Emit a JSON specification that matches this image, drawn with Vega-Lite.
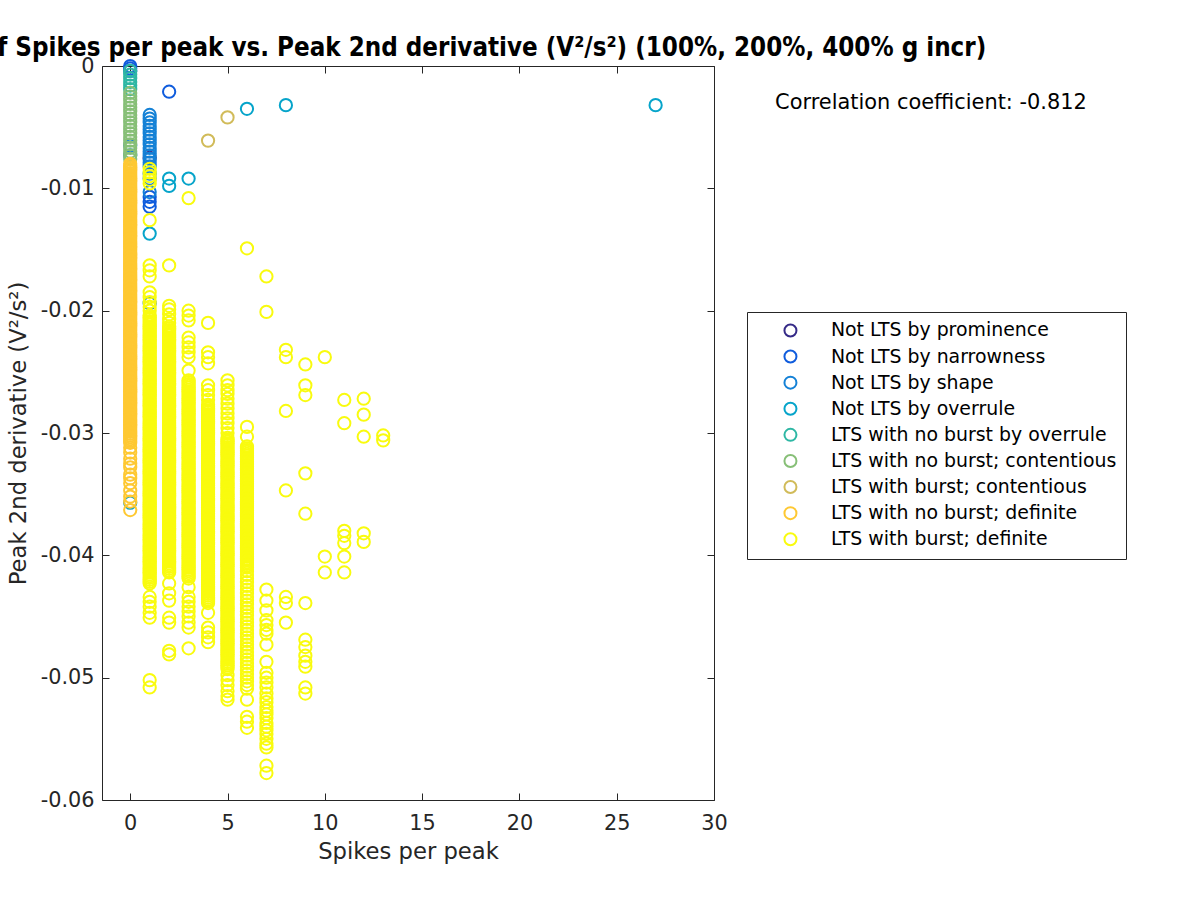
{
"$schema": "https://vega.github.io/schema/vega-lite/v6.json",
"width": 612, "height": 734,
"autosize": {"type": "none"},
"padding": {"left": 102, "top": 66, "right": 486, "bottom": 100},
"background": "white",
"title": {"text": "Number of Spikes per peak vs. Peak 2nd derivative (V²/s²) (100%, 200%, 400% g incr)", "fontSize": 25.7, "font": "DejaVu Sans Condensed, DejaVu Sans", "fontWeight": "bold", "color": "#000000", "anchor": "middle", "frame": "group", "baseline": "alphabetic", "offset": -27, "dx": 20},
"config": {"view": {"stroke": null}},
"resolve": {"axis": {"x": "independent", "y": "independent"}},
"layer": [
{
"data": {"values": [
{"x":1,"y":-0.0075,"c":"a"},
{"x":0,"y":0,"c":"b"},{"x":0,"y":-0.0002,"c":"b"},{"x":0,"y":-0.0004,"c":"b"},{"x":2,"y":-0.0021,"c":"b"},{"x":1,"y":-0.0107,"c":"b"},{"x":1,"y":-0.0111,"c":"b"},{"x":1,"y":-0.0115,"c":"b"},
{"x":0,"y":-0.0065,"c":"c"},{"x":0,"y":-0.0073,"c":"c"},
{"x":1,"y":-0.004,"c":"c"},{"x":1,"y":-0.0043,"c":"c"},{"x":1,"y":-0.0046,"c":"c"},{"x":1,"y":-0.0049,"c":"c"},{"x":1,"y":-0.0052,"c":"c"},{"x":1,"y":-0.0055,"c":"c"},{"x":1,"y":-0.0058,"c":"c"},{"x":1,"y":-0.0061,"c":"c"},{"x":1,"y":-0.0064,"c":"c"},{"x":1,"y":-0.0067,"c":"c"},{"x":1,"y":-0.007,"c":"c"},{"x":1,"y":-0.0073,"c":"c"},{"x":1,"y":-0.0076,"c":"c"},{"x":1,"y":-0.0079,"c":"c"},{"x":1,"y":-0.0082,"c":"c"},{"x":1,"y":-0.0088,"c":"c"},{"x":1,"y":-0.0092,"c":"c"},{"x":1,"y":-0.0103,"c":"c"},{"x":1,"y":-0.0194,"c":"c"},
{"x":0,"y":-0.0357,"c":"d"},{"x":1,"y":-0.0137,"c":"d"},{"x":2,"y":-0.0092,"c":"d"},{"x":2,"y":-0.0098,"c":"d"},{"x":3,"y":-0.0092,"c":"d"},{"x":6,"y":-0.0035,"c":"d"},{"x":8,"y":-0.0032,"c":"d"},{"x":27,"y":-0.0032,"c":"d"},
{"x":0,"y":-0.0004,"c":"e"},{"x":0,"y":-0.0007,"c":"e"},{"x":0,"y":-0.001,"c":"e"},{"x":0,"y":-0.0013,"c":"e"},{"x":0,"y":-0.0016,"c":"e"},{"x":0,"y":-0.0019,"c":"e"},
{"x":0,"y":-0.0022,"c":"f"},{"x":0,"y":-0.0025,"c":"f"},{"x":0,"y":-0.0028,"c":"f"},{"x":0,"y":-0.0031,"c":"f"},{"x":0,"y":-0.0034,"c":"f"},{"x":0,"y":-0.0037,"c":"f"},{"x":0,"y":-0.004,"c":"f"},{"x":0,"y":-0.0043,"c":"f"},{"x":0,"y":-0.0046,"c":"f"},{"x":0,"y":-0.0049,"c":"f"},{"x":0,"y":-0.0052,"c":"f"},{"x":0,"y":-0.0055,"c":"f"},{"x":0,"y":-0.0058,"c":"f"},{"x":0,"y":-0.0061,"c":"f"},{"x":0,"y":-0.0064,"c":"f"},{"x":0,"y":-0.0067,"c":"f"},{"x":0,"y":-0.007,"c":"f"},{"x":0,"y":-0.0073,"c":"f"},{"x":0,"y":-0.0076,"c":"f"},
{"x":4,"y":-0.0061,"c":"g"},{"x":5,"y":-0.0042,"c":"g"},
{"x":0,"y":-0.008,"c":"h"},{"x":0,"y":-0.0083,"c":"h"},{"x":0,"y":-0.0086,"c":"h"},{"x":0,"y":-0.0089,"c":"h"},{"x":0,"y":-0.0092,"c":"h"},{"x":0,"y":-0.0095,"c":"h"},{"x":0,"y":-0.0098,"c":"h"},{"x":0,"y":-0.0101,"c":"h"},{"x":0,"y":-0.0104,"c":"h"},{"x":0,"y":-0.0107,"c":"h"},{"x":0,"y":-0.011,"c":"h"},{"x":0,"y":-0.0113,"c":"h"},{"x":0,"y":-0.0116,"c":"h"},{"x":0,"y":-0.0119,"c":"h"},{"x":0,"y":-0.0122,"c":"h"},{"x":0,"y":-0.0125,"c":"h"},{"x":0,"y":-0.0128,"c":"h"},{"x":0,"y":-0.0131,"c":"h"},{"x":0,"y":-0.0134,"c":"h"},{"x":0,"y":-0.0137,"c":"h"},{"x":0,"y":-0.014,"c":"h"},{"x":0,"y":-0.0143,"c":"h"},{"x":0,"y":-0.0146,"c":"h"},{"x":0,"y":-0.0149,"c":"h"},{"x":0,"y":-0.0152,"c":"h"},{"x":0,"y":-0.0155,"c":"h"},{"x":0,"y":-0.0158,"c":"h"},{"x":0,"y":-0.0161,"c":"h"},{"x":0,"y":-0.0164,"c":"h"},{"x":0,"y":-0.0167,"c":"h"},{"x":0,"y":-0.017,"c":"h"},{"x":0,"y":-0.0173,"c":"h"},{"x":0,"y":-0.0176,"c":"h"},{"x":0,"y":-0.0179,"c":"h"},{"x":0,"y":-0.0182,"c":"h"},{"x":0,"y":-0.0185,"c":"h"},{"x":0,"y":-0.0188,"c":"h"},{"x":0,"y":-0.0191,"c":"h"},{"x":0,"y":-0.0194,"c":"h"},{"x":0,"y":-0.0197,"c":"h"},{"x":0,"y":-0.02,"c":"h"},{"x":0,"y":-0.0203,"c":"h"},{"x":0,"y":-0.0206,"c":"h"},{"x":0,"y":-0.0209,"c":"h"},{"x":0,"y":-0.0212,"c":"h"},{"x":0,"y":-0.0215,"c":"h"},{"x":0,"y":-0.0218,"c":"h"},{"x":0,"y":-0.0221,"c":"h"},{"x":0,"y":-0.0224,"c":"h"},{"x":0,"y":-0.0227,"c":"h"},{"x":0,"y":-0.023,"c":"h"},{"x":0,"y":-0.0233,"c":"h"},{"x":0,"y":-0.0236,"c":"h"},{"x":0,"y":-0.0239,"c":"h"},{"x":0,"y":-0.0242,"c":"h"},{"x":0,"y":-0.0245,"c":"h"},{"x":0,"y":-0.0248,"c":"h"},{"x":0,"y":-0.0251,"c":"h"},{"x":0,"y":-0.0254,"c":"h"},{"x":0,"y":-0.0257,"c":"h"},{"x":0,"y":-0.026,"c":"h"},{"x":0,"y":-0.0263,"c":"h"},{"x":0,"y":-0.0266,"c":"h"},{"x":0,"y":-0.0269,"c":"h"},{"x":0,"y":-0.0272,"c":"h"},{"x":0,"y":-0.0275,"c":"h"},{"x":0,"y":-0.0278,"c":"h"},{"x":0,"y":-0.0281,"c":"h"},{"x":0,"y":-0.0284,"c":"h"},{"x":0,"y":-0.0287,"c":"h"},{"x":0,"y":-0.029,"c":"h"},{"x":0,"y":-0.0293,"c":"h"},{"x":0,"y":-0.0296,"c":"h"},{"x":0,"y":-0.0299,"c":"h"},{"x":0,"y":-0.0302,"c":"h"},{"x":0,"y":-0.0305,"c":"h"},{"x":0,"y":-0.0308,"c":"h"},
{"x":0,"y":-0.00815,"c":"h"},{"x":0,"y":-0.00845,"c":"h"},{"x":0,"y":-0.00875,"c":"h"},{"x":0,"y":-0.00905,"c":"h"},{"x":0,"y":-0.00935,"c":"h"},{"x":0,"y":-0.00965,"c":"h"},{"x":0,"y":-0.00995,"c":"h"},{"x":0,"y":-0.01025,"c":"h"},{"x":0,"y":-0.01055,"c":"h"},{"x":0,"y":-0.01085,"c":"h"},{"x":0,"y":-0.01115,"c":"h"},{"x":0,"y":-0.01145,"c":"h"},{"x":0,"y":-0.01175,"c":"h"},{"x":0,"y":-0.01205,"c":"h"},{"x":0,"y":-0.01235,"c":"h"},{"x":0,"y":-0.01265,"c":"h"},{"x":0,"y":-0.01295,"c":"h"},{"x":0,"y":-0.01325,"c":"h"},{"x":0,"y":-0.01355,"c":"h"},{"x":0,"y":-0.01385,"c":"h"},{"x":0,"y":-0.01415,"c":"h"},{"x":0,"y":-0.01445,"c":"h"},{"x":0,"y":-0.01475,"c":"h"},{"x":0,"y":-0.01505,"c":"h"},{"x":0,"y":-0.01535,"c":"h"},{"x":0,"y":-0.01565,"c":"h"},{"x":0,"y":-0.01595,"c":"h"},{"x":0,"y":-0.01625,"c":"h"},{"x":0,"y":-0.01655,"c":"h"},{"x":0,"y":-0.01685,"c":"h"},{"x":0,"y":-0.01715,"c":"h"},{"x":0,"y":-0.01745,"c":"h"},{"x":0,"y":-0.01775,"c":"h"},{"x":0,"y":-0.01805,"c":"h"},{"x":0,"y":-0.01835,"c":"h"},{"x":0,"y":-0.01865,"c":"h"},{"x":0,"y":-0.01895,"c":"h"},{"x":0,"y":-0.01925,"c":"h"},{"x":0,"y":-0.01955,"c":"h"},{"x":0,"y":-0.01985,"c":"h"},{"x":0,"y":-0.02015,"c":"h"},{"x":0,"y":-0.02045,"c":"h"},{"x":0,"y":-0.02075,"c":"h"},{"x":0,"y":-0.02105,"c":"h"},{"x":0,"y":-0.02135,"c":"h"},{"x":0,"y":-0.02165,"c":"h"},{"x":0,"y":-0.02195,"c":"h"},{"x":0,"y":-0.02225,"c":"h"},{"x":0,"y":-0.02255,"c":"h"},{"x":0,"y":-0.02285,"c":"h"},{"x":0,"y":-0.02315,"c":"h"},{"x":0,"y":-0.02345,"c":"h"},{"x":0,"y":-0.02375,"c":"h"},{"x":0,"y":-0.02405,"c":"h"},{"x":0,"y":-0.02435,"c":"h"},{"x":0,"y":-0.02465,"c":"h"},{"x":0,"y":-0.02495,"c":"h"},{"x":0,"y":-0.02525,"c":"h"},{"x":0,"y":-0.02555,"c":"h"},{"x":0,"y":-0.02585,"c":"h"},{"x":0,"y":-0.02615,"c":"h"},{"x":0,"y":-0.02645,"c":"h"},{"x":0,"y":-0.02675,"c":"h"},{"x":0,"y":-0.02705,"c":"h"},{"x":0,"y":-0.02735,"c":"h"},{"x":0,"y":-0.02765,"c":"h"},{"x":0,"y":-0.02795,"c":"h"},{"x":0,"y":-0.02825,"c":"h"},{"x":0,"y":-0.02855,"c":"h"},{"x":0,"y":-0.02885,"c":"h"},{"x":0,"y":-0.02915,"c":"h"},{"x":0,"y":-0.02945,"c":"h"},{"x":0,"y":-0.02975,"c":"h"},{"x":0,"y":-0.03005,"c":"h"},{"x":0,"y":-0.03035,"c":"h"},{"x":0,"y":-0.03065,"c":"h"},
{"x":0,"y":-0.0312,"c":"h"},{"x":0,"y":-0.0316,"c":"h"},{"x":0,"y":-0.0321,"c":"h"},{"x":0,"y":-0.0325,"c":"h"},{"x":0,"y":-0.0328,"c":"h"},{"x":0,"y":-0.0334,"c":"h"},{"x":0,"y":-0.0337,"c":"h"},{"x":0,"y":-0.0341,"c":"h"},{"x":0,"y":-0.0347,"c":"h"},{"x":0,"y":-0.0352,"c":"h"},{"x":0,"y":-0.0356,"c":"h"},{"x":0,"y":-0.0363,"c":"h"},
{"x":1,"y":-0.0084,"c":"i"},{"x":1,"y":-0.0087,"c":"i"},{"x":1,"y":-0.009,"c":"i"},{"x":1,"y":-0.0093,"c":"i"},{"x":1,"y":-0.0096,"c":"i"},{"x":1,"y":-0.0126,"c":"i"},{"x":1,"y":-0.0163,"c":"i"},{"x":1,"y":-0.0167,"c":"i"},{"x":1,"y":-0.0172,"c":"i"},{"x":1,"y":-0.0185,"c":"i"},{"x":1,"y":-0.0189,"c":"i"},{"x":1,"y":-0.0193,"c":"i"},{"x":1,"y":-0.0197,"c":"i"},{"x":1,"y":-0.02,"c":"i"},
{"x":1,"y":-0.0204,"c":"i"},{"x":1,"y":-0.0207,"c":"i"},{"x":1,"y":-0.021,"c":"i"},{"x":1,"y":-0.0213,"c":"i"},{"x":1,"y":-0.0216,"c":"i"},{"x":1,"y":-0.0219,"c":"i"},{"x":1,"y":-0.0222,"c":"i"},{"x":1,"y":-0.0225,"c":"i"},{"x":1,"y":-0.0228,"c":"i"},{"x":1,"y":-0.0231,"c":"i"},{"x":1,"y":-0.0234,"c":"i"},{"x":1,"y":-0.0237,"c":"i"},{"x":1,"y":-0.024,"c":"i"},{"x":1,"y":-0.0243,"c":"i"},{"x":1,"y":-0.0246,"c":"i"},{"x":1,"y":-0.0249,"c":"i"},{"x":1,"y":-0.0252,"c":"i"},{"x":1,"y":-0.0255,"c":"i"},{"x":1,"y":-0.0258,"c":"i"},{"x":1,"y":-0.0261,"c":"i"},{"x":1,"y":-0.0264,"c":"i"},{"x":1,"y":-0.0267,"c":"i"},{"x":1,"y":-0.027,"c":"i"},{"x":1,"y":-0.0273,"c":"i"},{"x":1,"y":-0.0276,"c":"i"},{"x":1,"y":-0.0279,"c":"i"},{"x":1,"y":-0.0282,"c":"i"},{"x":1,"y":-0.0285,"c":"i"},{"x":1,"y":-0.0288,"c":"i"},{"x":1,"y":-0.0291,"c":"i"},{"x":1,"y":-0.0294,"c":"i"},{"x":1,"y":-0.0297,"c":"i"},{"x":1,"y":-0.03,"c":"i"},{"x":1,"y":-0.0303,"c":"i"},{"x":1,"y":-0.0306,"c":"i"},{"x":1,"y":-0.0309,"c":"i"},{"x":1,"y":-0.0312,"c":"i"},{"x":1,"y":-0.0315,"c":"i"},{"x":1,"y":-0.0318,"c":"i"},{"x":1,"y":-0.0321,"c":"i"},{"x":1,"y":-0.0324,"c":"i"},{"x":1,"y":-0.0327,"c":"i"},{"x":1,"y":-0.033,"c":"i"},{"x":1,"y":-0.0333,"c":"i"},{"x":1,"y":-0.0336,"c":"i"},{"x":1,"y":-0.0339,"c":"i"},{"x":1,"y":-0.0342,"c":"i"},{"x":1,"y":-0.0345,"c":"i"},{"x":1,"y":-0.0348,"c":"i"},{"x":1,"y":-0.0351,"c":"i"},{"x":1,"y":-0.0354,"c":"i"},{"x":1,"y":-0.0357,"c":"i"},{"x":1,"y":-0.036,"c":"i"},{"x":1,"y":-0.0363,"c":"i"},{"x":1,"y":-0.0366,"c":"i"},{"x":1,"y":-0.0369,"c":"i"},{"x":1,"y":-0.0372,"c":"i"},{"x":1,"y":-0.0375,"c":"i"},{"x":1,"y":-0.0378,"c":"i"},{"x":1,"y":-0.0381,"c":"i"},{"x":1,"y":-0.0384,"c":"i"},{"x":1,"y":-0.0387,"c":"i"},{"x":1,"y":-0.039,"c":"i"},{"x":1,"y":-0.0393,"c":"i"},{"x":1,"y":-0.0396,"c":"i"},{"x":1,"y":-0.0399,"c":"i"},{"x":1,"y":-0.0402,"c":"i"},{"x":1,"y":-0.0405,"c":"i"},{"x":1,"y":-0.0408,"c":"i"},{"x":1,"y":-0.0411,"c":"i"},{"x":1,"y":-0.0414,"c":"i"},{"x":1,"y":-0.0417,"c":"i"},{"x":1,"y":-0.042,"c":"i"},{"x":1,"y":-0.0423,"c":"i"},
{"x":1,"y":-0.0434,"c":"i"},{"x":1,"y":-0.0438,"c":"i"},{"x":1,"y":-0.0442,"c":"i"},{"x":1,"y":-0.0447,"c":"i"},{"x":1,"y":-0.0451,"c":"i"},{"x":1,"y":-0.0502,"c":"i"},{"x":1,"y":-0.0508,"c":"i"},
{"x":2,"y":-0.0163,"c":"i"},{"x":2,"y":-0.0196,"c":"i"},{"x":2,"y":-0.0199,"c":"i"},{"x":2,"y":-0.0203,"c":"i"},{"x":2,"y":-0.0207,"c":"i"},{"x":2,"y":-0.021,"c":"i"},
{"x":2,"y":-0.0213,"c":"i"},{"x":2,"y":-0.0216,"c":"i"},{"x":2,"y":-0.0219,"c":"i"},{"x":2,"y":-0.0222,"c":"i"},{"x":2,"y":-0.0225,"c":"i"},{"x":2,"y":-0.0228,"c":"i"},{"x":2,"y":-0.0231,"c":"i"},{"x":2,"y":-0.0234,"c":"i"},{"x":2,"y":-0.0237,"c":"i"},{"x":2,"y":-0.024,"c":"i"},{"x":2,"y":-0.0243,"c":"i"},{"x":2,"y":-0.0246,"c":"i"},{"x":2,"y":-0.0249,"c":"i"},{"x":2,"y":-0.0252,"c":"i"},{"x":2,"y":-0.0255,"c":"i"},{"x":2,"y":-0.0258,"c":"i"},{"x":2,"y":-0.0261,"c":"i"},{"x":2,"y":-0.0264,"c":"i"},{"x":2,"y":-0.0267,"c":"i"},{"x":2,"y":-0.027,"c":"i"},{"x":2,"y":-0.0273,"c":"i"},{"x":2,"y":-0.0276,"c":"i"},{"x":2,"y":-0.0279,"c":"i"},{"x":2,"y":-0.0282,"c":"i"},{"x":2,"y":-0.0285,"c":"i"},{"x":2,"y":-0.0288,"c":"i"},{"x":2,"y":-0.0291,"c":"i"},{"x":2,"y":-0.0294,"c":"i"},{"x":2,"y":-0.0297,"c":"i"},{"x":2,"y":-0.03,"c":"i"},{"x":2,"y":-0.0303,"c":"i"},{"x":2,"y":-0.0306,"c":"i"},{"x":2,"y":-0.0309,"c":"i"},{"x":2,"y":-0.0312,"c":"i"},{"x":2,"y":-0.0315,"c":"i"},{"x":2,"y":-0.0318,"c":"i"},{"x":2,"y":-0.0321,"c":"i"},{"x":2,"y":-0.0324,"c":"i"},{"x":2,"y":-0.0327,"c":"i"},{"x":2,"y":-0.033,"c":"i"},{"x":2,"y":-0.0333,"c":"i"},{"x":2,"y":-0.0336,"c":"i"},{"x":2,"y":-0.0339,"c":"i"},{"x":2,"y":-0.0342,"c":"i"},{"x":2,"y":-0.0345,"c":"i"},{"x":2,"y":-0.0348,"c":"i"},{"x":2,"y":-0.0351,"c":"i"},{"x":2,"y":-0.0354,"c":"i"},{"x":2,"y":-0.0357,"c":"i"},{"x":2,"y":-0.036,"c":"i"},{"x":2,"y":-0.0363,"c":"i"},{"x":2,"y":-0.0366,"c":"i"},{"x":2,"y":-0.0369,"c":"i"},{"x":2,"y":-0.0372,"c":"i"},{"x":2,"y":-0.0375,"c":"i"},{"x":2,"y":-0.0378,"c":"i"},{"x":2,"y":-0.0381,"c":"i"},{"x":2,"y":-0.0384,"c":"i"},{"x":2,"y":-0.0387,"c":"i"},{"x":2,"y":-0.039,"c":"i"},{"x":2,"y":-0.0393,"c":"i"},{"x":2,"y":-0.0396,"c":"i"},{"x":2,"y":-0.0399,"c":"i"},{"x":2,"y":-0.0402,"c":"i"},{"x":2,"y":-0.0405,"c":"i"},{"x":2,"y":-0.0408,"c":"i"},{"x":2,"y":-0.0411,"c":"i"},{"x":2,"y":-0.0414,"c":"i"},
{"x":2,"y":-0.0423,"c":"i"},{"x":2,"y":-0.0431,"c":"i"},{"x":2,"y":-0.0437,"c":"i"},{"x":2,"y":-0.0451,"c":"i"},{"x":2,"y":-0.0455,"c":"i"},{"x":2,"y":-0.0478,"c":"i"},{"x":2,"y":-0.0481,"c":"i"},
{"x":3,"y":-0.0108,"c":"i"},{"x":3,"y":-0.02,"c":"i"},{"x":3,"y":-0.0204,"c":"i"},{"x":3,"y":-0.0208,"c":"i"},{"x":3,"y":-0.0222,"c":"i"},{"x":3,"y":-0.0226,"c":"i"},{"x":3,"y":-0.023,"c":"i"},{"x":3,"y":-0.0234,"c":"i"},{"x":3,"y":-0.0238,"c":"i"},{"x":3,"y":-0.0249,"c":"i"},
{"x":3,"y":-0.0257,"c":"i"},{"x":3,"y":-0.026,"c":"i"},{"x":3,"y":-0.0263,"c":"i"},{"x":3,"y":-0.0266,"c":"i"},{"x":3,"y":-0.0269,"c":"i"},{"x":3,"y":-0.0272,"c":"i"},{"x":3,"y":-0.0275,"c":"i"},{"x":3,"y":-0.0278,"c":"i"},{"x":3,"y":-0.0281,"c":"i"},{"x":3,"y":-0.0284,"c":"i"},{"x":3,"y":-0.0287,"c":"i"},{"x":3,"y":-0.029,"c":"i"},{"x":3,"y":-0.0293,"c":"i"},{"x":3,"y":-0.0296,"c":"i"},{"x":3,"y":-0.0299,"c":"i"},{"x":3,"y":-0.0302,"c":"i"},{"x":3,"y":-0.0305,"c":"i"},{"x":3,"y":-0.0308,"c":"i"},{"x":3,"y":-0.0311,"c":"i"},{"x":3,"y":-0.0314,"c":"i"},{"x":3,"y":-0.0317,"c":"i"},{"x":3,"y":-0.032,"c":"i"},{"x":3,"y":-0.0323,"c":"i"},{"x":3,"y":-0.0326,"c":"i"},{"x":3,"y":-0.0329,"c":"i"},{"x":3,"y":-0.0332,"c":"i"},{"x":3,"y":-0.0335,"c":"i"},{"x":3,"y":-0.0338,"c":"i"},{"x":3,"y":-0.0341,"c":"i"},{"x":3,"y":-0.0344,"c":"i"},{"x":3,"y":-0.0347,"c":"i"},{"x":3,"y":-0.035,"c":"i"},{"x":3,"y":-0.0353,"c":"i"},{"x":3,"y":-0.0356,"c":"i"},{"x":3,"y":-0.0359,"c":"i"},{"x":3,"y":-0.0362,"c":"i"},{"x":3,"y":-0.0365,"c":"i"},{"x":3,"y":-0.0368,"c":"i"},{"x":3,"y":-0.0371,"c":"i"},{"x":3,"y":-0.0374,"c":"i"},{"x":3,"y":-0.0377,"c":"i"},{"x":3,"y":-0.038,"c":"i"},{"x":3,"y":-0.0383,"c":"i"},{"x":3,"y":-0.0386,"c":"i"},{"x":3,"y":-0.0389,"c":"i"},{"x":3,"y":-0.0392,"c":"i"},{"x":3,"y":-0.0395,"c":"i"},{"x":3,"y":-0.0398,"c":"i"},{"x":3,"y":-0.0401,"c":"i"},{"x":3,"y":-0.0404,"c":"i"},{"x":3,"y":-0.0407,"c":"i"},{"x":3,"y":-0.041,"c":"i"},{"x":3,"y":-0.0413,"c":"i"},{"x":3,"y":-0.0416,"c":"i"},{"x":3,"y":-0.0419,"c":"i"},
{"x":3,"y":-0.0426,"c":"i"},{"x":3,"y":-0.0434,"c":"i"},{"x":3,"y":-0.0438,"c":"i"},{"x":3,"y":-0.0442,"c":"i"},{"x":3,"y":-0.0446,"c":"i"},{"x":3,"y":-0.045,"c":"i"},{"x":3,"y":-0.0455,"c":"i"},{"x":3,"y":-0.0459,"c":"i"},{"x":3,"y":-0.0476,"c":"i"},
{"x":4,"y":-0.021,"c":"i"},{"x":4,"y":-0.0234,"c":"i"},{"x":4,"y":-0.0238,"c":"i"},{"x":4,"y":-0.0243,"c":"i"},{"x":4,"y":-0.0261,"c":"i"},{"x":4,"y":-0.0265,"c":"i"},{"x":4,"y":-0.0269,"c":"i"},{"x":4,"y":-0.0273,"c":"i"},
{"x":4,"y":-0.0277,"c":"i"},{"x":4,"y":-0.028,"c":"i"},{"x":4,"y":-0.0283,"c":"i"},{"x":4,"y":-0.0286,"c":"i"},{"x":4,"y":-0.0289,"c":"i"},{"x":4,"y":-0.0292,"c":"i"},{"x":4,"y":-0.0295,"c":"i"},{"x":4,"y":-0.0298,"c":"i"},{"x":4,"y":-0.0301,"c":"i"},{"x":4,"y":-0.0304,"c":"i"},{"x":4,"y":-0.0307,"c":"i"},{"x":4,"y":-0.031,"c":"i"},{"x":4,"y":-0.0313,"c":"i"},{"x":4,"y":-0.0316,"c":"i"},{"x":4,"y":-0.0319,"c":"i"},{"x":4,"y":-0.0322,"c":"i"},{"x":4,"y":-0.0325,"c":"i"},{"x":4,"y":-0.0328,"c":"i"},{"x":4,"y":-0.0331,"c":"i"},{"x":4,"y":-0.0334,"c":"i"},{"x":4,"y":-0.0337,"c":"i"},{"x":4,"y":-0.034,"c":"i"},{"x":4,"y":-0.0343,"c":"i"},{"x":4,"y":-0.0346,"c":"i"},{"x":4,"y":-0.0349,"c":"i"},{"x":4,"y":-0.0352,"c":"i"},{"x":4,"y":-0.0355,"c":"i"},{"x":4,"y":-0.0358,"c":"i"},{"x":4,"y":-0.0361,"c":"i"},{"x":4,"y":-0.0364,"c":"i"},{"x":4,"y":-0.0367,"c":"i"},{"x":4,"y":-0.037,"c":"i"},{"x":4,"y":-0.0373,"c":"i"},{"x":4,"y":-0.0376,"c":"i"},{"x":4,"y":-0.0379,"c":"i"},{"x":4,"y":-0.0382,"c":"i"},{"x":4,"y":-0.0385,"c":"i"},{"x":4,"y":-0.0388,"c":"i"},{"x":4,"y":-0.0391,"c":"i"},{"x":4,"y":-0.0394,"c":"i"},{"x":4,"y":-0.0397,"c":"i"},{"x":4,"y":-0.04,"c":"i"},{"x":4,"y":-0.0403,"c":"i"},{"x":4,"y":-0.0406,"c":"i"},{"x":4,"y":-0.0409,"c":"i"},{"x":4,"y":-0.0412,"c":"i"},{"x":4,"y":-0.0415,"c":"i"},{"x":4,"y":-0.0418,"c":"i"},{"x":4,"y":-0.0421,"c":"i"},{"x":4,"y":-0.0424,"c":"i"},{"x":4,"y":-0.0427,"c":"i"},{"x":4,"y":-0.043,"c":"i"},{"x":4,"y":-0.0433,"c":"i"},{"x":4,"y":-0.0436,"c":"i"},{"x":4,"y":-0.0439,"c":"i"},
{"x":4,"y":-0.0447,"c":"i"},{"x":4,"y":-0.0459,"c":"i"},{"x":4,"y":-0.0463,"c":"i"},{"x":4,"y":-0.0467,"c":"i"},{"x":4,"y":-0.0471,"c":"i"},
{"x":5,"y":-0.0257,"c":"i"},{"x":5,"y":-0.0261,"c":"i"},{"x":5,"y":-0.0265,"c":"i"},{"x":5,"y":-0.0268,"c":"i"},{"x":5,"y":-0.0272,"c":"i"},{"x":5,"y":-0.0276,"c":"i"},{"x":5,"y":-0.028,"c":"i"},{"x":5,"y":-0.0284,"c":"i"},{"x":5,"y":-0.0288,"c":"i"},{"x":5,"y":-0.0292,"c":"i"},{"x":5,"y":-0.0296,"c":"i"},{"x":5,"y":-0.03,"c":"i"},
{"x":5,"y":-0.0304,"c":"i"},{"x":5,"y":-0.0307,"c":"i"},{"x":5,"y":-0.031,"c":"i"},{"x":5,"y":-0.0313,"c":"i"},{"x":5,"y":-0.0316,"c":"i"},{"x":5,"y":-0.0319,"c":"i"},{"x":5,"y":-0.0322,"c":"i"},{"x":5,"y":-0.0325,"c":"i"},{"x":5,"y":-0.0328,"c":"i"},{"x":5,"y":-0.0331,"c":"i"},{"x":5,"y":-0.0334,"c":"i"},{"x":5,"y":-0.0337,"c":"i"},{"x":5,"y":-0.034,"c":"i"},{"x":5,"y":-0.0343,"c":"i"},{"x":5,"y":-0.0346,"c":"i"},{"x":5,"y":-0.0349,"c":"i"},{"x":5,"y":-0.0352,"c":"i"},{"x":5,"y":-0.0355,"c":"i"},{"x":5,"y":-0.0358,"c":"i"},{"x":5,"y":-0.0361,"c":"i"},{"x":5,"y":-0.0364,"c":"i"},{"x":5,"y":-0.0367,"c":"i"},{"x":5,"y":-0.037,"c":"i"},{"x":5,"y":-0.0373,"c":"i"},{"x":5,"y":-0.0376,"c":"i"},{"x":5,"y":-0.0379,"c":"i"},{"x":5,"y":-0.0382,"c":"i"},{"x":5,"y":-0.0385,"c":"i"},{"x":5,"y":-0.0388,"c":"i"},{"x":5,"y":-0.0391,"c":"i"},{"x":5,"y":-0.0394,"c":"i"},{"x":5,"y":-0.0397,"c":"i"},{"x":5,"y":-0.04,"c":"i"},{"x":5,"y":-0.0403,"c":"i"},{"x":5,"y":-0.0406,"c":"i"},{"x":5,"y":-0.0409,"c":"i"},{"x":5,"y":-0.0412,"c":"i"},{"x":5,"y":-0.0415,"c":"i"},{"x":5,"y":-0.0418,"c":"i"},{"x":5,"y":-0.0421,"c":"i"},{"x":5,"y":-0.0424,"c":"i"},{"x":5,"y":-0.0427,"c":"i"},{"x":5,"y":-0.043,"c":"i"},{"x":5,"y":-0.0433,"c":"i"},{"x":5,"y":-0.0436,"c":"i"},{"x":5,"y":-0.0439,"c":"i"},{"x":5,"y":-0.0442,"c":"i"},{"x":5,"y":-0.0445,"c":"i"},{"x":5,"y":-0.0448,"c":"i"},{"x":5,"y":-0.0451,"c":"i"},{"x":5,"y":-0.0454,"c":"i"},{"x":5,"y":-0.0457,"c":"i"},{"x":5,"y":-0.046,"c":"i"},{"x":5,"y":-0.0463,"c":"i"},{"x":5,"y":-0.0466,"c":"i"},{"x":5,"y":-0.0469,"c":"i"},{"x":5,"y":-0.0472,"c":"i"},{"x":5,"y":-0.0475,"c":"i"},{"x":5,"y":-0.0478,"c":"i"},{"x":5,"y":-0.0481,"c":"i"},{"x":5,"y":-0.0484,"c":"i"},{"x":5,"y":-0.0487,"c":"i"},{"x":5,"y":-0.049,"c":"i"},{"x":5,"y":-0.0493,"c":"i"},
{"x":5,"y":-0.0498,"c":"i"},{"x":5,"y":-0.0502,"c":"i"},{"x":5,"y":-0.0506,"c":"i"},{"x":5,"y":-0.0511,"c":"i"},{"x":5,"y":-0.0515,"c":"i"},{"x":5,"y":-0.0518,"c":"i"},
{"x":6,"y":-0.0149,"c":"i"},{"x":6,"y":-0.0295,"c":"i"},{"x":6,"y":-0.0303,"c":"i"},
{"x":6,"y":-0.0311,"c":"i"},{"x":6,"y":-0.0314,"c":"i"},{"x":6,"y":-0.0317,"c":"i"},{"x":6,"y":-0.032,"c":"i"},{"x":6,"y":-0.0323,"c":"i"},{"x":6,"y":-0.0326,"c":"i"},{"x":6,"y":-0.0329,"c":"i"},{"x":6,"y":-0.0332,"c":"i"},{"x":6,"y":-0.0335,"c":"i"},{"x":6,"y":-0.0338,"c":"i"},{"x":6,"y":-0.0341,"c":"i"},{"x":6,"y":-0.0344,"c":"i"},{"x":6,"y":-0.0347,"c":"i"},{"x":6,"y":-0.035,"c":"i"},{"x":6,"y":-0.0353,"c":"i"},{"x":6,"y":-0.0356,"c":"i"},{"x":6,"y":-0.0359,"c":"i"},{"x":6,"y":-0.0362,"c":"i"},{"x":6,"y":-0.0365,"c":"i"},{"x":6,"y":-0.0368,"c":"i"},{"x":6,"y":-0.0371,"c":"i"},{"x":6,"y":-0.0374,"c":"i"},{"x":6,"y":-0.0377,"c":"i"},{"x":6,"y":-0.038,"c":"i"},{"x":6,"y":-0.0383,"c":"i"},{"x":6,"y":-0.0386,"c":"i"},{"x":6,"y":-0.0389,"c":"i"},{"x":6,"y":-0.0392,"c":"i"},{"x":6,"y":-0.0395,"c":"i"},{"x":6,"y":-0.0398,"c":"i"},{"x":6,"y":-0.0401,"c":"i"},{"x":6,"y":-0.0404,"c":"i"},{"x":6,"y":-0.0407,"c":"i"},{"x":6,"y":-0.041,"c":"i"},{"x":6,"y":-0.0413,"c":"i"},{"x":6,"y":-0.0416,"c":"i"},{"x":6,"y":-0.0419,"c":"i"},{"x":6,"y":-0.0422,"c":"i"},{"x":6,"y":-0.0425,"c":"i"},{"x":6,"y":-0.0428,"c":"i"},{"x":6,"y":-0.0431,"c":"i"},{"x":6,"y":-0.0434,"c":"i"},{"x":6,"y":-0.0437,"c":"i"},{"x":6,"y":-0.044,"c":"i"},{"x":6,"y":-0.0443,"c":"i"},{"x":6,"y":-0.0446,"c":"i"},{"x":6,"y":-0.0449,"c":"i"},{"x":6,"y":-0.0452,"c":"i"},{"x":6,"y":-0.0455,"c":"i"},{"x":6,"y":-0.0458,"c":"i"},{"x":6,"y":-0.0461,"c":"i"},{"x":6,"y":-0.0464,"c":"i"},{"x":6,"y":-0.0467,"c":"i"},{"x":6,"y":-0.047,"c":"i"},{"x":6,"y":-0.0473,"c":"i"},{"x":6,"y":-0.0476,"c":"i"},{"x":6,"y":-0.0479,"c":"i"},{"x":6,"y":-0.0482,"c":"i"},{"x":6,"y":-0.0485,"c":"i"},{"x":6,"y":-0.0488,"c":"i"},{"x":6,"y":-0.0491,"c":"i"},{"x":6,"y":-0.0494,"c":"i"},{"x":6,"y":-0.0497,"c":"i"},{"x":6,"y":-0.05,"c":"i"},{"x":6,"y":-0.0503,"c":"i"},{"x":6,"y":-0.0506,"c":"i"},{"x":6,"y":-0.0509,"c":"i"},
{"x":6,"y":-0.0518,"c":"i"},{"x":6,"y":-0.0532,"c":"i"},{"x":6,"y":-0.0536,"c":"i"},{"x":6,"y":-0.0541,"c":"i"},
{"x":7,"y":-0.0172,"c":"i"},{"x":7,"y":-0.0201,"c":"i"},{"x":7,"y":-0.0428,"c":"i"},{"x":7,"y":-0.0437,"c":"i"},{"x":7,"y":-0.0445,"c":"i"},{"x":7,"y":-0.0453,"c":"i"},{"x":7,"y":-0.0457,"c":"i"},{"x":7,"y":-0.0461,"c":"i"},{"x":7,"y":-0.0464,"c":"i"},{"x":7,"y":-0.0473,"c":"i"},{"x":7,"y":-0.0487,"c":"i"},{"x":7,"y":-0.0496,"c":"i"},{"x":7,"y":-0.05,"c":"i"},{"x":7,"y":-0.0504,"c":"i"},{"x":7,"y":-0.0508,"c":"i"},{"x":7,"y":-0.0513,"c":"i"},{"x":7,"y":-0.0517,"c":"i"},{"x":7,"y":-0.052,"c":"i"},{"x":7,"y":-0.0524,"c":"i"},{"x":7,"y":-0.0527,"c":"i"},{"x":7,"y":-0.053,"c":"i"},{"x":7,"y":-0.0533,"c":"i"},{"x":7,"y":-0.0537,"c":"i"},{"x":7,"y":-0.054,"c":"i"},{"x":7,"y":-0.0543,"c":"i"},{"x":7,"y":-0.0546,"c":"i"},{"x":7,"y":-0.055,"c":"i"},{"x":7,"y":-0.0554,"c":"i"},{"x":7,"y":-0.0557,"c":"i"},{"x":7,"y":-0.0572,"c":"i"},{"x":7,"y":-0.0578,"c":"i"},
{"x":8,"y":-0.0232,"c":"i"},{"x":8,"y":-0.0238,"c":"i"},{"x":8,"y":-0.0282,"c":"i"},{"x":8,"y":-0.0347,"c":"i"},{"x":8,"y":-0.0434,"c":"i"},{"x":8,"y":-0.0439,"c":"i"},{"x":8,"y":-0.0455,"c":"i"},
{"x":9,"y":-0.0244,"c":"i"},{"x":9,"y":-0.0261,"c":"i"},{"x":9,"y":-0.0269,"c":"i"},{"x":9,"y":-0.0333,"c":"i"},{"x":9,"y":-0.0366,"c":"i"},{"x":9,"y":-0.0439,"c":"i"},{"x":9,"y":-0.0469,"c":"i"},{"x":9,"y":-0.0475,"c":"i"},{"x":9,"y":-0.0482,"c":"i"},{"x":9,"y":-0.0487,"c":"i"},{"x":9,"y":-0.0491,"c":"i"},{"x":9,"y":-0.0508,"c":"i"},{"x":9,"y":-0.0513,"c":"i"},
{"x":10,"y":-0.0238,"c":"i"},{"x":10,"y":-0.0401,"c":"i"},{"x":10,"y":-0.0414,"c":"i"},
{"x":11,"y":-0.0273,"c":"i"},{"x":11,"y":-0.0292,"c":"i"},{"x":11,"y":-0.038,"c":"i"},{"x":11,"y":-0.0384,"c":"i"},{"x":11,"y":-0.039,"c":"i"},{"x":11,"y":-0.0401,"c":"i"},{"x":11,"y":-0.0414,"c":"i"},
{"x":12,"y":-0.0272,"c":"i"},{"x":12,"y":-0.0285,"c":"i"},{"x":12,"y":-0.0303,"c":"i"},{"x":12,"y":-0.0382,"c":"i"},{"x":12,"y":-0.0389,"c":"i"},
{"x":13,"y":-0.0302,"c":"i"},{"x":13,"y":-0.0306,"c":"i"},
{"x":1,"y":-0.02055,"c":"i"},{"x":1,"y":-0.02085,"c":"i"},{"x":1,"y":-0.02115,"c":"i"},{"x":1,"y":-0.02145,"c":"i"},{"x":1,"y":-0.02175,"c":"i"},{"x":1,"y":-0.02205,"c":"i"},{"x":1,"y":-0.02235,"c":"i"},{"x":1,"y":-0.02265,"c":"i"},{"x":1,"y":-0.02295,"c":"i"},{"x":1,"y":-0.02325,"c":"i"},{"x":1,"y":-0.02355,"c":"i"},{"x":1,"y":-0.02385,"c":"i"},{"x":1,"y":-0.02415,"c":"i"},{"x":1,"y":-0.02445,"c":"i"},{"x":1,"y":-0.02475,"c":"i"},{"x":1,"y":-0.02505,"c":"i"},{"x":1,"y":-0.02535,"c":"i"},{"x":1,"y":-0.02565,"c":"i"},{"x":1,"y":-0.02595,"c":"i"},{"x":1,"y":-0.02625,"c":"i"},{"x":1,"y":-0.02655,"c":"i"},{"x":1,"y":-0.02685,"c":"i"},{"x":1,"y":-0.02715,"c":"i"},{"x":1,"y":-0.02745,"c":"i"},{"x":1,"y":-0.02775,"c":"i"},{"x":1,"y":-0.02805,"c":"i"},{"x":1,"y":-0.02835,"c":"i"},{"x":1,"y":-0.02865,"c":"i"},{"x":1,"y":-0.02895,"c":"i"},{"x":1,"y":-0.02925,"c":"i"},{"x":1,"y":-0.02955,"c":"i"},{"x":1,"y":-0.02985,"c":"i"},{"x":1,"y":-0.03015,"c":"i"},{"x":1,"y":-0.03045,"c":"i"},{"x":1,"y":-0.03075,"c":"i"},{"x":1,"y":-0.03105,"c":"i"},{"x":1,"y":-0.03135,"c":"i"},{"x":1,"y":-0.03165,"c":"i"},{"x":1,"y":-0.03195,"c":"i"},{"x":1,"y":-0.03225,"c":"i"},{"x":1,"y":-0.03255,"c":"i"},{"x":1,"y":-0.03285,"c":"i"},{"x":1,"y":-0.03315,"c":"i"},{"x":1,"y":-0.03345,"c":"i"},{"x":1,"y":-0.03375,"c":"i"},{"x":1,"y":-0.03405,"c":"i"},{"x":1,"y":-0.03435,"c":"i"},{"x":1,"y":-0.03465,"c":"i"},{"x":1,"y":-0.03495,"c":"i"},{"x":1,"y":-0.03525,"c":"i"},{"x":1,"y":-0.03555,"c":"i"},{"x":1,"y":-0.03585,"c":"i"},{"x":1,"y":-0.03615,"c":"i"},{"x":1,"y":-0.03645,"c":"i"},{"x":1,"y":-0.03675,"c":"i"},{"x":1,"y":-0.03705,"c":"i"},{"x":1,"y":-0.03735,"c":"i"},{"x":1,"y":-0.03765,"c":"i"},{"x":1,"y":-0.03795,"c":"i"},{"x":1,"y":-0.03825,"c":"i"},{"x":1,"y":-0.03855,"c":"i"},{"x":1,"y":-0.03885,"c":"i"},{"x":1,"y":-0.03915,"c":"i"},{"x":1,"y":-0.03945,"c":"i"},{"x":1,"y":-0.03975,"c":"i"},{"x":1,"y":-0.04005,"c":"i"},{"x":1,"y":-0.04035,"c":"i"},{"x":1,"y":-0.04065,"c":"i"},{"x":1,"y":-0.04095,"c":"i"},{"x":1,"y":-0.04125,"c":"i"},{"x":1,"y":-0.04155,"c":"i"},{"x":1,"y":-0.04185,"c":"i"},{"x":1,"y":-0.04215,"c":"i"},
{"x":2,"y":-0.02145,"c":"i"},{"x":2,"y":-0.02175,"c":"i"},{"x":2,"y":-0.02205,"c":"i"},{"x":2,"y":-0.02235,"c":"i"},{"x":2,"y":-0.02265,"c":"i"},{"x":2,"y":-0.02295,"c":"i"},{"x":2,"y":-0.02325,"c":"i"},{"x":2,"y":-0.02355,"c":"i"},{"x":2,"y":-0.02385,"c":"i"},{"x":2,"y":-0.02415,"c":"i"},{"x":2,"y":-0.02445,"c":"i"},{"x":2,"y":-0.02475,"c":"i"},{"x":2,"y":-0.02505,"c":"i"},{"x":2,"y":-0.02535,"c":"i"},{"x":2,"y":-0.02565,"c":"i"},{"x":2,"y":-0.02595,"c":"i"},{"x":2,"y":-0.02625,"c":"i"},{"x":2,"y":-0.02655,"c":"i"},{"x":2,"y":-0.02685,"c":"i"},{"x":2,"y":-0.02715,"c":"i"},{"x":2,"y":-0.02745,"c":"i"},{"x":2,"y":-0.02775,"c":"i"},{"x":2,"y":-0.02805,"c":"i"},{"x":2,"y":-0.02835,"c":"i"},{"x":2,"y":-0.02865,"c":"i"},{"x":2,"y":-0.02895,"c":"i"},{"x":2,"y":-0.02925,"c":"i"},{"x":2,"y":-0.02955,"c":"i"},{"x":2,"y":-0.02985,"c":"i"},{"x":2,"y":-0.03015,"c":"i"},{"x":2,"y":-0.03045,"c":"i"},{"x":2,"y":-0.03075,"c":"i"},{"x":2,"y":-0.03105,"c":"i"},{"x":2,"y":-0.03135,"c":"i"},{"x":2,"y":-0.03165,"c":"i"},{"x":2,"y":-0.03195,"c":"i"},{"x":2,"y":-0.03225,"c":"i"},{"x":2,"y":-0.03255,"c":"i"},{"x":2,"y":-0.03285,"c":"i"},{"x":2,"y":-0.03315,"c":"i"},{"x":2,"y":-0.03345,"c":"i"},{"x":2,"y":-0.03375,"c":"i"},{"x":2,"y":-0.03405,"c":"i"},{"x":2,"y":-0.03435,"c":"i"},{"x":2,"y":-0.03465,"c":"i"},{"x":2,"y":-0.03495,"c":"i"},{"x":2,"y":-0.03525,"c":"i"},{"x":2,"y":-0.03555,"c":"i"},{"x":2,"y":-0.03585,"c":"i"},{"x":2,"y":-0.03615,"c":"i"},{"x":2,"y":-0.03645,"c":"i"},{"x":2,"y":-0.03675,"c":"i"},{"x":2,"y":-0.03705,"c":"i"},{"x":2,"y":-0.03735,"c":"i"},{"x":2,"y":-0.03765,"c":"i"},{"x":2,"y":-0.03795,"c":"i"},{"x":2,"y":-0.03825,"c":"i"},{"x":2,"y":-0.03855,"c":"i"},{"x":2,"y":-0.03885,"c":"i"},{"x":2,"y":-0.03915,"c":"i"},{"x":2,"y":-0.03945,"c":"i"},{"x":2,"y":-0.03975,"c":"i"},{"x":2,"y":-0.04005,"c":"i"},{"x":2,"y":-0.04035,"c":"i"},{"x":2,"y":-0.04065,"c":"i"},{"x":2,"y":-0.04095,"c":"i"},{"x":2,"y":-0.04125,"c":"i"},
{"x":3,"y":-0.02585,"c":"i"},{"x":3,"y":-0.02615,"c":"i"},{"x":3,"y":-0.02645,"c":"i"},{"x":3,"y":-0.02675,"c":"i"},{"x":3,"y":-0.02705,"c":"i"},{"x":3,"y":-0.02735,"c":"i"},{"x":3,"y":-0.02765,"c":"i"},{"x":3,"y":-0.02795,"c":"i"},{"x":3,"y":-0.02825,"c":"i"},{"x":3,"y":-0.02855,"c":"i"},{"x":3,"y":-0.02885,"c":"i"},{"x":3,"y":-0.02915,"c":"i"},{"x":3,"y":-0.02945,"c":"i"},{"x":3,"y":-0.02975,"c":"i"},{"x":3,"y":-0.03005,"c":"i"},{"x":3,"y":-0.03035,"c":"i"},{"x":3,"y":-0.03065,"c":"i"},{"x":3,"y":-0.03095,"c":"i"},{"x":3,"y":-0.03125,"c":"i"},{"x":3,"y":-0.03155,"c":"i"},{"x":3,"y":-0.03185,"c":"i"},{"x":3,"y":-0.03215,"c":"i"},{"x":3,"y":-0.03245,"c":"i"},{"x":3,"y":-0.03275,"c":"i"},{"x":3,"y":-0.03305,"c":"i"},{"x":3,"y":-0.03335,"c":"i"},{"x":3,"y":-0.03365,"c":"i"},{"x":3,"y":-0.03395,"c":"i"},{"x":3,"y":-0.03425,"c":"i"},{"x":3,"y":-0.03455,"c":"i"},{"x":3,"y":-0.03485,"c":"i"},{"x":3,"y":-0.03515,"c":"i"},{"x":3,"y":-0.03545,"c":"i"},{"x":3,"y":-0.03575,"c":"i"},{"x":3,"y":-0.03605,"c":"i"},{"x":3,"y":-0.03635,"c":"i"},{"x":3,"y":-0.03665,"c":"i"},{"x":3,"y":-0.03695,"c":"i"},{"x":3,"y":-0.03725,"c":"i"},{"x":3,"y":-0.03755,"c":"i"},{"x":3,"y":-0.03785,"c":"i"},{"x":3,"y":-0.03815,"c":"i"},{"x":3,"y":-0.03845,"c":"i"},{"x":3,"y":-0.03875,"c":"i"},{"x":3,"y":-0.03905,"c":"i"},{"x":3,"y":-0.03935,"c":"i"},{"x":3,"y":-0.03965,"c":"i"},{"x":3,"y":-0.03995,"c":"i"},{"x":3,"y":-0.04025,"c":"i"},{"x":3,"y":-0.04055,"c":"i"},{"x":3,"y":-0.04085,"c":"i"},{"x":3,"y":-0.04115,"c":"i"},{"x":3,"y":-0.04145,"c":"i"},{"x":3,"y":-0.04175,"c":"i"},
{"x":4,"y":-0.02785,"c":"i"},{"x":4,"y":-0.02815,"c":"i"},{"x":4,"y":-0.02845,"c":"i"},{"x":4,"y":-0.02875,"c":"i"},{"x":4,"y":-0.02905,"c":"i"},{"x":4,"y":-0.02935,"c":"i"},{"x":4,"y":-0.02965,"c":"i"},{"x":4,"y":-0.02995,"c":"i"},{"x":4,"y":-0.03025,"c":"i"},{"x":4,"y":-0.03055,"c":"i"},{"x":4,"y":-0.03085,"c":"i"},{"x":4,"y":-0.03115,"c":"i"},{"x":4,"y":-0.03145,"c":"i"},{"x":4,"y":-0.03175,"c":"i"},{"x":4,"y":-0.03205,"c":"i"},{"x":4,"y":-0.03235,"c":"i"},{"x":4,"y":-0.03265,"c":"i"},{"x":4,"y":-0.03295,"c":"i"},{"x":4,"y":-0.03325,"c":"i"},{"x":4,"y":-0.03355,"c":"i"},{"x":4,"y":-0.03385,"c":"i"},{"x":4,"y":-0.03415,"c":"i"},{"x":4,"y":-0.03445,"c":"i"},{"x":4,"y":-0.03475,"c":"i"},{"x":4,"y":-0.03505,"c":"i"},{"x":4,"y":-0.03535,"c":"i"},{"x":4,"y":-0.03565,"c":"i"},{"x":4,"y":-0.03595,"c":"i"},{"x":4,"y":-0.03625,"c":"i"},{"x":4,"y":-0.03655,"c":"i"},{"x":4,"y":-0.03685,"c":"i"},{"x":4,"y":-0.03715,"c":"i"},{"x":4,"y":-0.03745,"c":"i"},{"x":4,"y":-0.03775,"c":"i"},{"x":4,"y":-0.03805,"c":"i"},{"x":4,"y":-0.03835,"c":"i"},{"x":4,"y":-0.03865,"c":"i"},{"x":4,"y":-0.03895,"c":"i"},{"x":4,"y":-0.03925,"c":"i"},{"x":4,"y":-0.03955,"c":"i"},{"x":4,"y":-0.03985,"c":"i"},{"x":4,"y":-0.04015,"c":"i"},{"x":4,"y":-0.04045,"c":"i"},{"x":4,"y":-0.04075,"c":"i"},{"x":4,"y":-0.04105,"c":"i"},{"x":4,"y":-0.04135,"c":"i"},{"x":4,"y":-0.04165,"c":"i"},{"x":4,"y":-0.04195,"c":"i"},{"x":4,"y":-0.04225,"c":"i"},{"x":4,"y":-0.04255,"c":"i"},{"x":4,"y":-0.04285,"c":"i"},{"x":4,"y":-0.04315,"c":"i"},{"x":4,"y":-0.04345,"c":"i"},{"x":4,"y":-0.04375,"c":"i"},
{"x":5,"y":-0.03055,"c":"i"},{"x":5,"y":-0.03085,"c":"i"},{"x":5,"y":-0.03115,"c":"i"},{"x":5,"y":-0.03145,"c":"i"},{"x":5,"y":-0.03175,"c":"i"},{"x":5,"y":-0.03205,"c":"i"},{"x":5,"y":-0.03235,"c":"i"},{"x":5,"y":-0.03265,"c":"i"},{"x":5,"y":-0.03295,"c":"i"},{"x":5,"y":-0.03325,"c":"i"},{"x":5,"y":-0.03355,"c":"i"},{"x":5,"y":-0.03385,"c":"i"},{"x":5,"y":-0.03415,"c":"i"},{"x":5,"y":-0.03445,"c":"i"},{"x":5,"y":-0.03475,"c":"i"},{"x":5,"y":-0.03505,"c":"i"},{"x":5,"y":-0.03535,"c":"i"},{"x":5,"y":-0.03565,"c":"i"},{"x":5,"y":-0.03595,"c":"i"},{"x":5,"y":-0.03625,"c":"i"},{"x":5,"y":-0.03655,"c":"i"},{"x":5,"y":-0.03685,"c":"i"},{"x":5,"y":-0.03715,"c":"i"},{"x":5,"y":-0.03745,"c":"i"},{"x":5,"y":-0.03775,"c":"i"},{"x":5,"y":-0.03805,"c":"i"},{"x":5,"y":-0.03835,"c":"i"},{"x":5,"y":-0.03865,"c":"i"},{"x":5,"y":-0.03895,"c":"i"},{"x":5,"y":-0.03925,"c":"i"},{"x":5,"y":-0.03955,"c":"i"},{"x":5,"y":-0.03985,"c":"i"},{"x":5,"y":-0.04015,"c":"i"},{"x":5,"y":-0.04045,"c":"i"},{"x":5,"y":-0.04075,"c":"i"},{"x":5,"y":-0.04105,"c":"i"},{"x":5,"y":-0.04135,"c":"i"},{"x":5,"y":-0.04165,"c":"i"},{"x":5,"y":-0.04195,"c":"i"},{"x":5,"y":-0.04225,"c":"i"},{"x":5,"y":-0.04255,"c":"i"},{"x":5,"y":-0.04285,"c":"i"},{"x":5,"y":-0.04315,"c":"i"},{"x":5,"y":-0.04345,"c":"i"},{"x":5,"y":-0.04375,"c":"i"},{"x":5,"y":-0.04405,"c":"i"},{"x":5,"y":-0.04435,"c":"i"},{"x":5,"y":-0.04465,"c":"i"},{"x":5,"y":-0.04495,"c":"i"},{"x":5,"y":-0.04525,"c":"i"},{"x":5,"y":-0.04555,"c":"i"},{"x":5,"y":-0.04585,"c":"i"},{"x":5,"y":-0.04615,"c":"i"},{"x":5,"y":-0.04645,"c":"i"},{"x":5,"y":-0.04675,"c":"i"},{"x":5,"y":-0.04705,"c":"i"},{"x":5,"y":-0.04735,"c":"i"},{"x":5,"y":-0.04765,"c":"i"},{"x":5,"y":-0.04795,"c":"i"},{"x":5,"y":-0.04825,"c":"i"},{"x":5,"y":-0.04855,"c":"i"},{"x":5,"y":-0.04885,"c":"i"},{"x":5,"y":-0.04915,"c":"i"},
{"x":6,"y":-0.03125,"c":"i"},{"x":6,"y":-0.03155,"c":"i"},{"x":6,"y":-0.03185,"c":"i"},{"x":6,"y":-0.03215,"c":"i"},{"x":6,"y":-0.03245,"c":"i"},{"x":6,"y":-0.03275,"c":"i"},{"x":6,"y":-0.03305,"c":"i"},{"x":6,"y":-0.03335,"c":"i"},{"x":6,"y":-0.03365,"c":"i"},{"x":6,"y":-0.03395,"c":"i"},{"x":6,"y":-0.03425,"c":"i"},{"x":6,"y":-0.03455,"c":"i"},{"x":6,"y":-0.03485,"c":"i"},{"x":6,"y":-0.03515,"c":"i"},{"x":6,"y":-0.03545,"c":"i"},{"x":6,"y":-0.03575,"c":"i"},{"x":6,"y":-0.03605,"c":"i"},{"x":6,"y":-0.03635,"c":"i"},{"x":6,"y":-0.03665,"c":"i"},{"x":6,"y":-0.03695,"c":"i"},{"x":6,"y":-0.03725,"c":"i"},{"x":6,"y":-0.03755,"c":"i"},{"x":6,"y":-0.03785,"c":"i"},{"x":6,"y":-0.03815,"c":"i"},{"x":6,"y":-0.03845,"c":"i"},{"x":6,"y":-0.03875,"c":"i"},{"x":6,"y":-0.03905,"c":"i"},{"x":6,"y":-0.03935,"c":"i"},{"x":6,"y":-0.03965,"c":"i"},{"x":6,"y":-0.03995,"c":"i"},{"x":6,"y":-0.04025,"c":"i"},{"x":6,"y":-0.04055,"c":"i"},{"x":6,"y":-0.04085,"c":"i"}
]},
"mark": {"type": "point", "shape": "circle", "filled": false, "size": 150, "strokeWidth": 2, "opacity": 1},
"encoding": {
"x": {"field": "x", "type": "quantitative", "scale": {"domain": [-1.45, 30], "nice": false, "zero": false},
 "axis": {"orient": "bottom", "values": [0,5,10,15,20,25,30], "grid": false, "tickSize": -7, "tickColor": "#262626", "tickWidth": 1, "domainColor": "#262626", "domainWidth": 1, "labelFont": "DejaVu Sans", "labelFontSize": 20.8, "labelColor": "#262626", "labelPadding": 20, "labelFlush": false, "labelOverlap": false, "title": "Spikes per peak", "titleFont": "DejaVu Sans", "titleFontSize": 22.7, "titleFontWeight": "normal", "titleColor": "#262626", "titlePadding": 8}},
"y": {"field": "y", "type": "quantitative", "scale": {"domain": [-0.06, 0], "nice": false, "zero": false},
 "axis": {"orient": "left", "values": [-0.06,-0.05,-0.04,-0.03,-0.02,-0.01,0], "labelExpr": "datum.value == 0 ? '0' : '-' + format(-datum.value, '.2f')", "grid": false, "tickSize": -7, "tickColor": "#262626", "tickWidth": 1, "domainColor": "#262626", "domainWidth": 1, "labelFont": "DejaVu Sans", "labelFontSize": 20.8, "labelColor": "#262626", "labelPadding": 15, "labelFlush": false, "labelOverlap": false, "title": "Peak 2nd derivative (V²/s²)", "titleFont": "DejaVu Sans", "titleFontSize": 22.7, "titleFontWeight": "normal", "titleColor": "#262626", "titlePadding": 10}},
"color": {"field": "c", "type": "nominal",
 "scale": {"domain": ["a","b","c","d","e","f","g","h","i"], "range": ["#352a87","#0f5cdd","#1481d6","#06a4ca","#2eb7a4","#87bf77","#d1bb59","#fec832","#f9fb0e"]},
 "legend": {"title": null, "orient": "none", "legendX": 645, "legendY": 246, "padding": 9, "symbolOffset": 25, "labelOffset": 31, "labelFont": "DejaVu Sans", "labelFontSize": 18.9, "labelColor": "#000000", "labelLimit": 500, "symbolType": "circle", "symbolSize": 144, "symbolStrokeWidth": 2, "rowPadding": 5.1, "strokeColor": "#262626", "fillColor": "#ffffff",
  "labelExpr": "{'a':'Not LTS by prominence','b':'Not LTS by narrowness','c':'Not LTS by shape','d':'Not LTS by overrule','e':'LTS with no burst by overrule','f':'LTS with no burst; contentious','g':'LTS with burst; contentious','h':'LTS with no burst; definite','i':'LTS with burst; definite'}[datum.label]"}}
}
},
{
"data": {"values": [{"x": 33.14, "y": -0.003, "t": "Correlation coefficient: -0.812"}]},
"mark": {"type": "text", "align": "left", "baseline": "middle", "font": "DejaVu Sans", "fontSize": 20.9, "color": "#000000"},
"encoding": {
"x": {"field": "x", "type": "quantitative", "scale": {"domain": [-1.45, 30], "nice": false, "zero": false},
 "axis": {"orient": "top", "values": [0,5,10,15,20,25,30], "labels": false, "grid": false, "tickSize": -7, "tickColor": "#262626", "tickWidth": 1, "domainColor": "#262626", "domainWidth": 1, "title": null}},
"y": {"field": "y", "type": "quantitative", "scale": {"domain": [-0.06, 0], "nice": false, "zero": false},
 "axis": {"orient": "right", "values": [-0.06,-0.05,-0.04,-0.03,-0.02,-0.01,0], "labels": false, "grid": false, "tickSize": -7, "tickColor": "#262626", "tickWidth": 1, "domainColor": "#262626", "domainWidth": 1, "title": null}},
"text": {"field": "t"}
}
}
]
}
